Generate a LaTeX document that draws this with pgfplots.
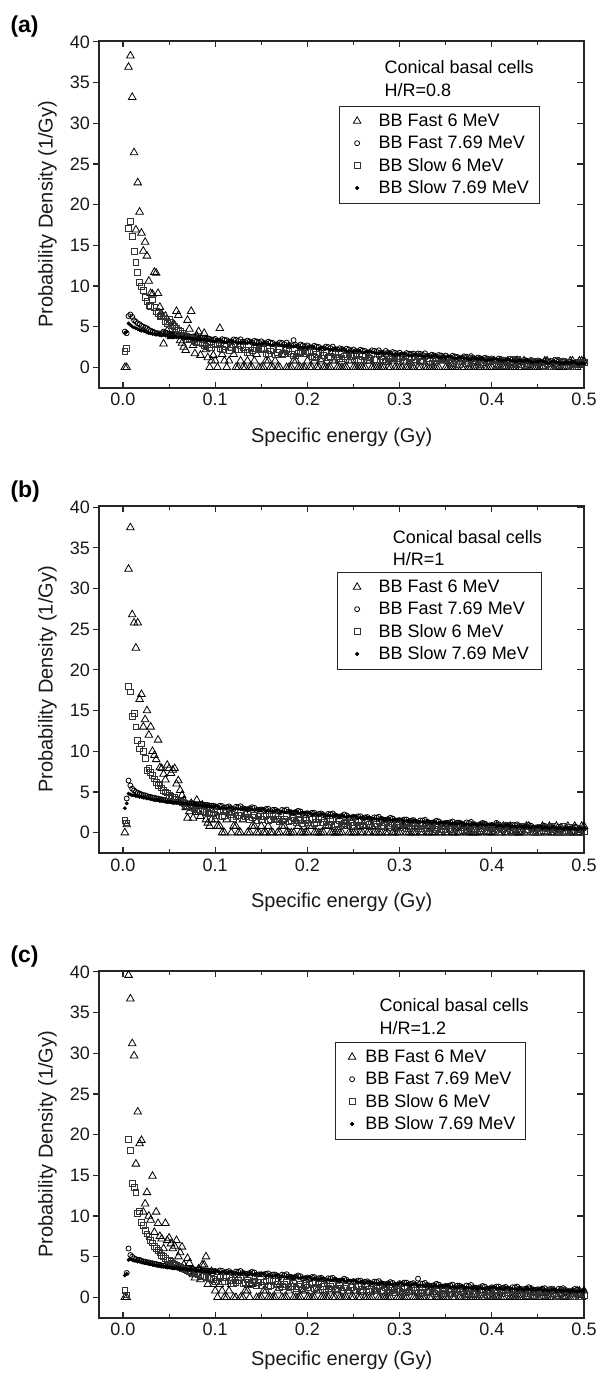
\documentclass[border=0pt]{standalone}
\usepackage{pgfplots}
\pgfplotsset{compat=1.18}
\usepackage{pgfplotstable}
\usepackage{fontspec}
\setmainfont{Liberation Sans}

\pgfplotstableread{
x t c s d
0.002 0.0 4.4 2.0 4.2
0.004 0.0 4.2 2.3 4.4
0.006 36.9 6.3 17.1 5.4
0.008 38.3 6.5 17.9 5.2
0.010 33.2 6.2 16.1 5.0
0.012 26.4 5.8 14.3 4.9
0.014 16.9 5.6 12.9 4.8
0.016 22.7 5.4 11.7 4.7
0.018 19.1 5.3 10.4 4.6
0.020 16.5 5.1 10.0 4.5
0.022 14.3 5.0 9.5 4.5
0.024 15.4 4.9 8.6 4.4
0.026 13.7 4.8 8.1 4.3
0.028 10.6 4.6 7.6 4.2
0.030 9.1 4.5 7.5 4.2
0.032 9.0 4.4 8.3 4.1
0.034 11.7 4.3 7.4 4.1
0.036 11.6 4.2 6.9 4.0
0.038 9.1 4.2 6.6 4.1
0.040 7.4 4.1 6.3 4.0
0.042 6.5 4.2 6.4 3.9
0.044 2.9 4.4 6.4 4.0
0.046 6.3 4.3 5.6 3.9
0.048 4.5 4.2 5.4 3.9
0.050 5.5 4.1 5.9 3.8
0.052 3.8 4.1 5.5 3.8
0.054 4.0 4.0 5.2 3.8
0.056 5.2 4.0 5.0 3.8
0.058 6.9 4.0 4.8 3.7
0.060 6.4 3.9 4.6 3.7
0.062 3.3 3.9 4.4 3.7
0.064 3.0 3.9 4.2 3.7
0.066 2.5 3.8 4.0 3.6
0.068 2.1 3.9 3.8 3.6
0.070 5.8 3.9 3.4 3.6
0.072 4.7 3.8 3.5 3.6
0.074 6.9 3.7 3.6 3.5
0.076 2.7 3.8 3.4 3.5
0.078 1.7 3.8 3.2 3.5
0.080 3.9 3.7 3.1 3.5
0.082 4.4 3.6 3.0 3.4
0.084 1.5 3.7 3.0 3.4
0.086 3.0 3.6 2.9 3.4
0.088 4.2 3.6 2.7 3.4
0.090 2.2 3.5 2.6 3.3
0.092 1.2 3.5 2.8 3.3
0.094 0.0 3.5 2.4 3.3
0.096 0.8 3.4 2.5 3.3
0.098 1.5 3.4 2.8 3.2
0.100 0.8 3.50 2.90 3.20
0.105 4.8 3.27 2.34 3.29
0.110 0.8 3.39 2.58 3.08
0.115 0.8 3.16 2.07 3.19
0.120 1.6 3.43 2.76 3.11
0.125 0 3.25 2.20 2.99
0.130 0 3.17 2.44 3.14
0.135 0.8 3.29 1.88 2.97
0.140 0 3.06 2.12 3.03
0.145 1.6 3.18 2.31 2.83
0.150 0 3.20 2.30 2.85
0.155 0.8 2.95 1.76 2.94
0.160 0 3.05 2.02 2.71
0.165 0.8 2.80 1.53 2.82
0.170 0 3.05 2.24 2.72
0.175 1.6 2.85 1.70 2.60
0.180 0 2.75 1.96 2.73
0.185 0.8 3.35 1.42 2.56
0.190 0 2.60 1.68 2.60
0.195 0 2.70 1.89 2.40
0.200 0.8 2.70 1.90 2.40
0.205 0 2.45 1.37 2.49
0.210 0 2.55 1.63 2.26
0.215 0.8 2.30 1.15 2.37
0.220 0 2.55 1.86 2.27
0.225 0 2.35 1.33 2.15
0.230 0.8 2.25 1.59 2.28
0.235 0 2.35 1.06 2.11
0.240 0 2.10 1.32 2.15
0.245 0.8 2.20 1.54 1.95
0.250 0 2.20 1.55 1.95
0.255 0 1.96 1.02 2.04
0.260 0 2.07 1.30 1.82
0.265 0.8 1.83 0.82 1.93
0.270 0 2.09 1.55 1.84
0.275 0 1.90 1.02 1.72
0.280 0 1.81 1.30 1.86
0.285 0.8 2.02 0.77 1.69
0.290 0 1.68 1.05 1.74
0.295 0 1.79 1.27 1.54
0.300 0 1.80 1.30 1.55
0.305 0.8 1.56 0.78 1.65
0.310 0 1.68 1.06 1.43
0.315 0 1.70 0.59 1.55
0.320 0 1.71 1.32 1.46
0.325 0.8 1.53 0.80 1.35
0.330 0 1.44 1.08 1.49
0.335 0 1.56 0.56 1.33
0.340 0 1.32 0.84 1.38
0.345 0.8 1.44 1.07 1.19
0.350 0 1.45 1.10 1.20
0.355 0 1.22 0.58 1.30
0.360 0 1.33 0.86 1.09
0.365 0.8 1.10 0.39 1.21
0.370 0 1.36 1.12 1.13
0.375 0 1.18 0.60 1.02
0.380 0 1.09 0.88 1.17
0.385 0 1.21 0.36 1.01
0.390 0.8 0.97 0.64 1.07
0.395 0 1.09 0.87 0.88
0.400 0 1.10 0.90 0.90
0.405 0 0.88 0.39 1.01
0.410 0.8 1.00 0.67 0.80
0.415 0 0.78 0.21 0.93
0.420 0 1.05 0.94 0.85
0.425 0 0.88 0.43 0.75
0.430 0 0.80 0.71 0.90
0.435 0.8 0.93 0.20 0.75
0.440 0 0.70 0.48 0.81
0.445 0 0.83 0.72 0.63
0.450 0 0.85 0.75 0.65
0.455 0 0.63 0.24 0.76
0.460 0.8 0.75 0.53 0.56
0.465 0 0.53 0.07 0.69
0.470 0 0.80 0.81 0.62
0.475 0 0.63 0.30 0.52
0.480 0 0.55 0.59 0.68
0.485 0.8 0.68 0.08 0.53
0.490 0 0.45 0.37 0.60
0.495 0.8 0.58 0.61 0.42
0.500 0.8 0.60 0.65 0.45
0.1025 0 3.30 2.80 3.35
0.1075 1.6 3.47 2.24 3.21
0.1125 0 3.34 2.78 3.08
0.1175 2.4 3.21 2.42 3.24
0.1225 0 3.38 2.16 3.11
0.1275 0.8 3.45 2.70 2.97
0.1325 0 3.12 2.14 3.04
0.1375 0 3.19 1.88 3.10
0.1425 0.8 3.26 2.32 2.87
0.1475 0 3.03 2.16 2.93
0.1525 0 3.00 2.20 3.00
0.1575 0.8 3.15 1.66 2.86
0.1625 0 3.00 2.22 2.71
0.1675 0 2.85 1.88 2.87
0.1725 1.6 3.00 1.64 2.72
0.1775 0 3.05 2.20 2.58
0.1825 0 2.70 1.66 2.63
0.1875 0.8 2.75 1.42 2.69
0.1925 0 2.80 1.88 2.44
0.1975 0 2.55 1.74 2.50
0.2025 0 2.50 1.80 2.55
0.2075 0.8 2.65 1.27 2.41
0.2125 0 2.50 1.83 2.26
0.2175 0 2.35 1.50 2.42
0.2225 0 2.50 1.26 2.27
0.2275 0.8 2.55 1.83 2.13
0.2325 0 2.20 1.29 2.18
0.2375 0 2.25 1.06 2.24
0.2425 0 2.30 1.52 1.99
0.2475 0.8 2.05 1.39 2.05
0.2525 0 2.00 1.45 2.10
0.2575 0 2.16 0.92 1.96
0.2625 0 2.02 1.50 1.82
0.2675 0.8 1.88 1.17 1.98
0.2725 0 2.04 0.95 1.84
0.2775 0 2.10 1.52 1.70
0.2825 0 1.76 1.00 1.76
0.2875 0 1.82 0.77 1.82
0.2925 0.8 1.88 1.25 1.58
0.2975 0 1.64 1.12 1.64
0.3025 0 1.60 1.20 1.70
0.3075 0 1.76 0.68 1.57
0.3125 0 1.63 1.26 1.43
0.3175 0.8 1.50 0.94 1.60
0.3225 0 1.66 0.72 1.46
0.3275 0 1.73 1.30 1.33
0.3325 0 1.39 0.78 1.39
0.3375 0 1.46 0.56 1.46
0.3425 0 1.52 1.04 1.22
0.3475 0.8 1.29 0.92 1.29
0.3525 0 1.25 1.00 1.35
0.3575 0 1.42 0.48 1.22
0.3625 0 1.28 1.06 1.09
0.3675 0 1.15 0.74 1.26
0.3725 0.8 1.31 0.52 1.13
0.3775 0 1.38 1.10 1.00
0.3825 0 1.04 0.58 1.07
0.3875 0 1.11 0.36 1.14
0.3925 0 1.17 0.84 0.91
0.3975 0 0.94 0.72 0.98
0.4025 0.8 0.90 0.80 1.05
0.4075 0 1.08 0.29 0.93
0.4125 0 0.95 0.87 0.80
0.4175 0 0.83 0.56 0.98
0.4225 0 1.00 0.34 0.85
0.4275 0.8 1.08 0.93 0.73
0.4325 0 0.75 0.41 0.80
0.4375 0 0.83 0.20 0.88
0.4425 0 0.90 0.68 0.65
0.4475 0 0.68 0.57 0.73
0.4525 0 0.65 0.65 0.80
0.4575 0.8 0.83 0.14 0.68
0.4625 0 0.70 0.73 0.56
0.4675 0 0.58 0.42 0.74
0.4725 0 0.75 0.21 0.62
0.4775 0 0.83 0.80 0.50
0.4825 0 0.50 0.29 0.58
0.4875 0.8 0.58 0.08 0.66
0.4925 0 0.65 0.57 0.44
0.4975 0.8 0.43 0.46 0.52
}\tabA

\pgfplotstableread{
x t c s d
0.002 0.0 nan 1.5 3.0
0.004 1.0 4.2 1.2 3.6
0.006 32.4 6.4 18.0 4.8
0.008 37.5 5.8 17.3 4.7
0.010 26.8 5.4 14.3 4.6
0.012 25.8 5.2 14.7 4.6
0.014 22.7 5.0 13.0 4.5
0.016 25.8 4.9 11.3 4.5
0.018 16.4 4.8 10.3 4.4
0.020 17.0 4.7 10.9 4.4
0.022 13.0 4.6 10.0 4.3
0.024 13.9 4.6 9.1 4.3
0.026 15.0 4.5 7.7 4.2
0.028 12.0 4.4 7.9 4.2
0.030 13.0 4.4 7.4 4.1
0.032 10.0 4.3 7.0 4.1
0.034 9.5 4.3 6.6 4.0
0.036 9.0 4.2 6.2 4.0
0.038 11.4 4.2 5.8 4.0
0.040 8.0 4.1 6.0 3.9
0.042 7.9 4.1 5.5 3.9
0.044 7.2 4.0 5.2 3.9
0.046 6.5 4.0 5.0 3.8
0.048 8.3 3.9 4.9 3.8
0.050 7.9 3.9 4.6 3.8
0.052 7.3 3.9 4.5 3.8
0.054 7.7 3.8 4.4 3.7
0.056 7.9 3.8 4.3 3.7
0.058 6.0 3.8 4.1 3.7
0.060 6.4 3.8 4.0 3.7
0.062 5.2 3.7 3.8 3.6
0.064 4.6 3.7 3.7 3.6
0.066 4.0 3.7 3.6 3.6
0.068 3.1 3.7 3.4 3.6
0.070 1.8 3.6 3.3 3.5
0.072 2.6 3.6 3.2 3.5
0.074 3.6 3.6 3.1 3.5
0.076 1.8 3.6 3.1 3.5
0.078 3.2 3.5 3.0 3.4
0.080 4.0 3.5 2.9 3.4
0.082 2.5 3.5 2.8 3.4
0.084 2.0 3.5 2.7 3.4
0.086 3.4 3.4 2.6 3.3
0.088 2.8 3.4 2.6 3.3
0.090 1.6 3.4 2.5 3.3
0.092 1.2 3.4 2.5 3.3
0.094 0.8 3.3 2.4 3.2
0.096 1.6 3.3 2.3 3.2
0.098 2.4 3.3 2.3 3.2
0.100 1.6 3.25 2.10 3.25
0.105 0.8 3.31 2.55 3.01
0.110 0 3.07 2.10 3.07
0.115 2.4 3.23 2.55 3.13
0.120 0.8 2.89 1.80 2.89
0.125 0 3.15 2.15 2.95
0.130 1.6 3.01 1.80 3.01
0.135 0 2.87 2.25 2.77
0.140 0.8 3.13 1.90 2.83
0.145 0 2.79 1.55 2.89
0.150 0.8 2.85 1.60 2.85
0.155 0 2.90 2.06 2.60
0.160 0 2.66 1.62 2.66
0.165 1.6 2.81 2.08 2.71
0.170 0 2.47 1.34 2.47
0.175 0.8 2.72 1.70 2.52
0.180 0 2.58 1.36 2.58
0.185 0 2.43 1.82 2.33
0.190 0.8 2.69 1.48 2.39
0.195 0 2.34 1.14 2.44
0.200 0 2.40 1.20 2.40
0.205 0.8 2.45 1.67 2.16
0.210 0 2.21 1.24 2.22
0.215 0 2.36 1.71 2.28
0.220 0.8 2.02 0.98 2.04
0.225 0 2.27 1.35 2.10
0.230 0 2.13 1.02 2.16
0.235 0 1.98 1.49 1.92
0.240 0.8 2.24 1.16 1.98
0.245 0 1.89 0.83 2.04
0.250 0 1.95 0.90 2.00
0.255 0.8 2.01 1.38 1.76
0.260 0 1.77 0.95 1.82
0.265 0 1.93 1.43 1.88
0.270 0.8 1.59 0.70 1.64
0.275 0 1.85 1.08 1.70
0.280 0 1.71 0.75 1.76
0.285 0 1.57 1.23 1.52
0.290 0.8 1.83 0.90 1.58
0.295 0 1.49 0.58 1.64
0.300 0 1.55 0.65 1.60
0.305 0.8 1.62 1.13 1.37
0.310 0 1.38 0.71 1.43
0.315 0 1.55 1.19 1.50
0.320 0.8 1.21 0.47 1.26
0.325 0 1.48 0.85 1.33
0.330 0 1.34 0.53 1.39
0.335 0 1.21 1.01 1.16
0.340 0.8 1.47 0.69 1.22
0.345 0 1.14 0.37 1.29
0.350 0 1.20 0.45 1.25
0.355 0.8 1.28 0.94 1.03
0.360 0 1.05 0.52 1.10
0.365 0 1.23 1.01 1.18
0.370 0.8 0.90 0.29 0.95
0.375 0 1.18 0.68 1.03
0.380 0 1.05 0.36 1.10
0.385 0 0.93 0.85 0.88
0.390 0.8 1.20 0.53 0.95
0.395 0 0.88 0.22 1.03
0.400 0 0.95 0.30 1.00
0.405 0.8 1.20 0.79 0.78
0.410 0 0.80 0.38 0.85
0.415 0 0.98 0.87 0.93
0.420 0.8 0.65 0.16 0.70
0.425 0 0.93 0.55 0.78
0.430 0 0.80 0.24 0.85
0.435 0 0.68 0.73 0.63
0.440 0.8 0.95 0.42 0.70
0.445 0 0.63 0.11 0.78
0.450 0 0.70 0.20 0.75
0.455 0.8 0.78 0.69 0.53
0.460 0 0.56 0.28 0.61
0.465 0 0.74 0.77 0.69
0.470 0.8 0.42 0.06 0.47
0.475 0 0.70 0.45 0.55
0.480 0 0.58 0.14 0.63
0.485 0 0.46 0.63 0.41
0.490 0.8 0.74 0.32 0.49
0.495 0 0.42 0.01 0.57
0.500 0.8 0.50 0.10 0.55
0.1025 0.8 3.10 2.60 3.25
0.1075 0 3.27 2.04 3.11
0.1125 1.6 3.14 2.58 2.98
0.1175 0 3.01 2.22 3.14
0.1225 0.8 3.18 1.96 3.01
0.1275 0 3.25 2.50 2.87
0.1325 2.4 2.92 1.94 2.94
0.1375 0 2.99 1.68 3.00
0.1425 0.8 3.06 2.12 2.77
0.1475 0 2.83 1.96 2.83
0.1525 0 2.80 2.00 2.90
0.1575 0.8 2.95 1.46 2.76
0.1625 0 2.80 2.02 2.61
0.1675 0 2.65 1.68 2.77
0.1725 0.8 2.80 1.44 2.62
0.1775 0 2.85 2.00 2.48
0.1825 0 2.50 1.46 2.53
0.1875 1.6 2.55 1.22 2.59
0.1925 0 2.60 1.68 2.34
0.1975 0 2.35 1.54 2.40
0.2025 0.8 2.30 1.60 2.45
0.2075 0 2.45 1.07 2.31
0.2125 0 2.30 1.63 2.16
0.2175 0 2.15 1.30 2.32
0.2225 0.8 2.30 1.06 2.17
0.2275 0 2.35 1.63 2.03
0.2325 0 2.00 1.09 2.08
0.2375 0 2.05 0.86 2.14
0.2425 0.8 2.10 1.32 1.89
0.2475 0 1.85 1.19 1.95
0.2525 0 1.85 1.30 2.00
0.2575 0 2.01 0.77 1.86
0.2625 0.8 1.87 1.35 1.72
0.2675 0 1.73 1.02 1.88
0.2725 0 1.89 0.80 1.74
0.2775 0 1.95 1.37 1.60
0.2825 0.8 1.61 0.85 1.66
0.2875 0 1.67 0.62 1.72
0.2925 0 1.73 1.10 1.48
0.2975 0 1.49 0.97 1.54
0.3025 0.8 1.45 1.05 1.60
0.3075 0 1.61 0.53 1.47
0.3125 0 1.48 1.11 1.33
0.3175 0 1.35 0.79 1.50
0.3225 0 1.51 0.57 1.36
0.3275 0.8 1.58 1.15 1.23
0.3325 0 1.24 0.63 1.29
0.3375 0 1.31 0.41 1.36
0.3425 0 1.37 0.89 1.12
0.3475 0.8 1.14 0.77 1.19
0.3525 0 1.20 0.90 1.30
0.3575 0 1.37 0.38 1.17
0.3625 0 1.23 0.96 1.04
0.3675 0.8 1.10 0.64 1.21
0.3725 0 1.26 0.42 1.08
0.3775 0 1.33 1.00 0.95
0.3825 0 0.99 0.48 1.02
0.3875 0 1.06 0.26 1.09
0.3925 0.8 1.12 0.74 0.86
0.3975 0 0.89 0.62 0.93
0.4025 0 0.85 0.70 1.00
0.4075 0 1.03 0.19 0.88
0.4125 0.8 0.90 0.77 0.75
0.4175 0 0.78 0.46 0.93
0.4225 0 0.95 0.24 0.80
0.4275 0 1.03 0.83 0.68
0.4325 0 0.70 0.31 0.75
0.4375 0.8 0.78 0.10 0.83
0.4425 0 0.85 0.58 0.60
0.4475 0 0.63 0.47 0.68
0.4525 0 0.65 0.60 0.75
0.4575 0 0.83 0.09 0.63
0.4625 0.8 0.70 0.68 0.51
0.4675 0 0.58 0.37 0.69
0.4725 0 0.75 0.16 0.57
0.4775 0 0.83 0.75 0.45
0.4825 0.8 0.50 0.24 0.53
0.4875 0 0.58 0.03 0.61
0.4925 0 0.65 0.52 0.39
0.4975 0.8 0.43 0.41 0.47
}\tabB

\pgfplotstableread{
x t c s d
0.002 0.0 nan 0.9 2.7
0.004 0.0 3.0 0.3 2.9
0.006 39.6 6.0 19.4 4.6
0.008 36.7 5.2 18.1 4.7
0.010 31.2 5.0 14.0 4.6
0.012 29.7 4.8 13.5 4.5
0.014 16.4 4.7 12.9 4.5
0.016 22.8 4.6 10.3 4.4
0.018 18.9 4.6 10.6 4.4
0.020 19.3 4.5 9.2 4.3
0.022 10.5 4.4 8.8 4.3
0.024 11.5 4.4 8.2 4.2
0.026 12.9 4.3 7.8 4.2
0.028 10.0 4.3 7.5 4.1
0.030 9.5 4.2 7.0 4.1
0.032 14.9 4.2 6.7 4.0
0.034 8.0 4.1 6.3 4.0
0.036 10.5 4.1 6.0 3.9
0.038 9.1 4.0 5.8 3.9
0.040 7.5 4.0 5.5 3.9
0.042 7.2 3.9 5.2 3.8
0.044 6.0 3.9 5.0 3.8
0.046 9.1 3.9 4.8 3.8
0.048 7.0 3.8 4.6 3.7
0.050 7.3 3.8 4.5 3.7
0.052 6.6 3.8 4.4 3.7
0.054 6.0 3.7 4.2 3.6
0.056 6.3 3.7 4.1 3.6
0.058 7.0 3.7 3.9 3.6
0.060 5.0 3.7 3.8 3.6
0.062 5.5 3.6 3.7 3.5
0.064 6.2 3.6 3.6 3.5
0.066 4.0 3.6 3.5 3.5
0.068 3.5 3.6 3.4 3.5
0.070 4.8 3.5 3.3 3.4
0.072 4.2 3.5 3.2 3.4
0.074 3.2 3.5 3.1 3.4
0.076 2.8 3.5 3.0 3.4
0.078 2.4 3.4 2.9 3.3
0.080 3.0 3.4 2.9 3.3
0.082 3.5 3.4 2.8 3.3
0.084 2.2 3.4 2.7 3.3
0.086 4.0 3.3 2.6 3.2
0.088 4.0 3.3 2.6 3.2
0.090 5.0 3.3 2.5 3.2
0.092 1.6 3.3 2.4 3.2
0.094 2.4 3.2 2.3 3.1
0.096 3.2 3.2 2.3 3.1
0.098 1.6 3.2 2.2 3.1
0.100 0.8 3.25 2.00 3.25
0.105 1.6 3.31 2.45 3.01
0.110 0 3.07 2.00 3.07
0.115 0.8 3.23 2.45 3.13
0.120 0 2.89 1.70 2.89
0.125 2.4 3.15 2.05 2.95
0.130 0 3.01 1.70 3.01
0.135 0.8 2.87 2.15 2.77
0.140 1.6 3.13 1.80 2.83
0.145 0 2.79 1.45 2.89
0.150 0 2.85 1.50 2.85
0.155 0.8 2.90 1.96 2.60
0.160 0 2.66 1.52 2.66
0.165 0 2.81 1.98 2.71
0.170 1.6 2.47 1.24 2.47
0.175 0 2.72 1.60 2.52
0.180 0.8 2.58 1.26 2.58
0.185 0 2.43 1.72 2.33
0.190 0 2.69 1.38 2.39
0.195 0.8 2.34 1.04 2.44
0.200 0 2.45 1.20 2.45
0.205 0 2.50 1.67 2.21
0.210 0.8 2.26 1.24 2.27
0.215 0 2.41 1.71 2.33
0.220 0 2.07 0.98 2.09
0.225 0.8 2.32 1.35 2.15
0.230 0 2.18 1.02 2.21
0.235 0 2.03 1.49 1.97
0.240 0 2.29 1.16 2.03
0.245 0.8 1.94 0.83 2.09
0.250 0 2.00 0.90 2.05
0.255 0 2.06 1.38 1.81
0.260 0.8 1.82 0.95 1.87
0.265 0 1.98 1.43 1.93
0.270 0 1.64 0.70 1.69
0.275 0.8 1.90 1.08 1.75
0.280 0 1.76 0.75 1.81
0.285 0 1.62 1.23 1.57
0.290 0 1.88 0.90 1.63
0.295 0.8 1.54 0.58 1.69
0.300 0 1.75 0.70 1.75
0.305 0 1.82 1.18 1.52
0.310 0.8 1.58 0.76 1.58
0.315 0 1.75 1.24 1.65
0.320 0 2.30 0.52 1.41
0.325 0 1.68 0.90 1.48
0.330 0.8 1.54 0.58 1.54
0.335 0 1.41 1.06 1.31
0.340 0 1.67 0.74 1.37
0.345 0 1.34 0.42 1.44
0.350 0 1.40 0.50 1.40
0.355 0.8 1.48 0.99 1.18
0.360 0 1.25 0.57 1.25
0.365 0 1.43 1.06 1.33
0.370 0 1.10 0.34 1.10
0.375 0.8 1.38 0.73 1.18
0.380 0 1.25 0.41 1.25
0.385 0 1.13 0.90 1.03
0.390 0 1.40 0.58 1.10
0.395 0.8 1.08 0.27 1.18
0.400 0 1.25 0.40 1.25
0.405 0 1.33 0.89 1.03
0.410 0 1.10 0.48 1.10
0.415 0.8 1.28 0.97 1.18
0.420 0 0.95 0.26 0.95
0.425 0 1.23 0.65 1.03
0.430 0 1.10 0.34 1.10
0.435 0.8 0.98 0.83 0.88
0.440 0 1.25 0.52 0.95
0.445 0 0.93 0.21 1.03
0.450 0 1.00 0.30 1.00
0.455 0.8 1.08 0.79 0.78
0.460 0 0.86 0.38 0.86
0.465 0 1.04 0.87 0.94
0.470 0 0.72 0.16 0.72
0.475 0.8 1.00 0.55 0.80
0.480 0 0.88 0.24 0.88
0.485 0 0.76 0.73 0.66
0.490 0 1.04 0.42 0.74
0.495 0.8 0.72 0.11 0.82
0.500 0.8 0.80 0.20 0.80
0.1025 0 3.10 2.50 3.25
0.1075 0.8 3.27 1.94 3.11
0.1125 0 3.14 2.48 2.98
0.1175 1.6 3.01 2.12 3.14
0.1225 0 3.18 1.86 3.01
0.1275 0 3.25 2.40 2.87
0.1325 0.8 2.92 1.84 2.94
0.1375 0 2.99 1.58 3.00
0.1425 2.4 3.06 2.02 2.77
0.1475 0 2.83 1.86 2.83
0.1525 0.8 2.80 1.90 2.90
0.1575 0 2.95 1.36 2.76
0.1625 0 2.80 1.92 2.61
0.1675 0.8 2.65 1.58 2.77
0.1725 0 2.80 1.34 2.62
0.1775 0 2.85 1.90 2.48
0.1825 1.6 2.50 1.36 2.53
0.1875 0 2.55 1.12 2.59
0.1925 0 2.60 1.58 2.34
0.1975 0.8 2.35 1.44 2.40
0.2025 0 2.35 1.60 2.50
0.2075 0 2.50 1.07 2.36
0.2125 0.8 2.35 1.63 2.21
0.2175 0 2.20 1.30 2.37
0.2225 0 2.35 1.06 2.22
0.2275 0 2.40 1.63 2.08
0.2325 0.8 2.05 1.09 2.13
0.2375 0 2.10 0.86 2.19
0.2425 0 2.15 1.32 1.94
0.2475 0 1.90 1.19 2.00
0.2525 0.8 1.90 1.30 2.05
0.2575 0 2.06 0.77 1.91
0.2625 0 1.92 1.35 1.77
0.2675 0 1.78 1.02 1.93
0.2725 0.8 1.94 0.80 1.79
0.2775 0 2.00 1.37 1.65
0.2825 0 1.66 0.85 1.71
0.2875 0 1.72 0.62 1.77
0.2925 0.8 1.78 1.10 1.53
0.2975 0 1.54 0.97 1.59
0.3025 0 1.65 1.10 1.75
0.3075 0 1.81 0.58 1.62
0.3125 0.8 1.68 1.16 1.48
0.3175 0 1.55 0.84 1.65
0.3225 0 1.71 0.62 1.51
0.3275 0 1.78 1.20 1.38
0.3325 0 1.44 0.68 1.44
0.3375 0.8 1.51 0.46 1.51
0.3425 0 1.57 0.94 1.27
0.3475 0 1.34 0.82 1.34
0.3525 0 1.40 0.95 1.45
0.3575 0 1.57 0.43 1.32
0.3625 0.8 1.43 1.01 1.19
0.3675 0 1.30 0.69 1.36
0.3725 0 1.46 0.47 1.23
0.3775 0 1.53 1.05 1.10
0.3825 0 1.19 0.53 1.17
0.3875 0.8 1.26 0.31 1.24
0.3925 0 1.32 0.79 1.01
0.3975 0 1.09 0.67 1.08
0.4025 0 1.15 0.80 1.25
0.4075 0 1.33 0.29 1.13
0.4125 0 1.20 0.87 1.00
0.4175 0.8 1.08 0.56 1.18
0.4225 0 1.25 0.34 1.05
0.4275 0 1.33 0.93 0.93
0.4325 0 1.00 0.41 1.00
0.4375 0 1.08 0.20 1.08
0.4425 0.8 1.15 0.68 0.85
0.4475 0 0.93 0.57 0.93
0.4525 0 0.95 0.70 1.05
0.4575 0 1.13 0.19 0.93
0.4625 0 1.00 0.78 0.81
0.4675 0.8 0.88 0.47 0.99
0.4725 0 1.05 0.26 0.87
0.4775 0 1.13 0.85 0.75
0.4825 0 0.80 0.34 0.83
0.4875 0 0.88 0.13 0.91
0.4925 0.8 0.95 0.62 0.69
0.4975 0 0.73 0.51 0.77
}\tabC

\pgfplotsset{
  panelbase/.style={
    scale only axis, width=484.7bp, height=347bp,
    xmin=-0.0257, xmax=0.5, ymin=-2.5, ymax=40.15,
  },
  lgimg/.style={legend image code/.code={%
      \path[draw=none,fill=none] (0bp,-6bp) rectangle (18bp,6bp);
      \draw[##1,only marks] plot coordinates {(9bp,0bp)};}},
  mainpanel/.style={
    panelbase,
    axis line style={line width=1.6bp, black!85},
    xtick={0,0.1,0.2,0.3,0.4,0.5},
    minor xtick={0.05,0.15,0.25,0.35,0.45},
    xtick align=inside,
    ytick={0,5,10,15,20,25,30,35,40},
    ytick pos=left, ytick align=outside,
    major tick length=6bp, minor tick length=4bp,
    every tick/.style={line width=1.1bp, black!85},
    scaled x ticks=false,
    xticklabel style={/pgf/number format/.cd, fixed, fixed zerofill, precision=1, assume math mode=true},
    yticklabel style={/pgf/number format/assume math mode=true},
    tick label style={font=\fontsize{18bp}{21bp}\selectfont, text=black!90},
    xticklabel shift=2bp,
    xlabel={Specific energy (Gy)},
    ylabel={Probability Density (1/Gy)},
    label style={font=\fontsize{20bp}{24bp}\selectfont, text=black!90},
    xlabel style={at={(axis description cs:0.5,-0.1421)}, anchor=center},
    ylabel style={at={(axis description cs:-0.1069,0.5)}, anchor=center},
    legend cell align=left,
    legend style={draw=black!85, line width=0.8bp, fill=none, anchor=north west,
      inner ysep=6bp, row sep=4bp,
      font=\fontsize{18bp}{21bp}\selectfont,
      nodes={inner sep=2bp, text depth=0.15em}},
  },
  rightticks/.style={
    panelbase,
    axis x line=none, axis y line*=right,
    y axis line style={draw=none},
    ytick={0,5,10,15,20,25,30,35,40}, yticklabels={},
    ytick align=inside, major tick length=7.5bp,
    every tick/.style={line width=1.1bp, black!85},
  },
  pf6/.style={only marks, mark=triangle, mark size=4.4bp, line width=0.8bp, black, lgimg},
  pf7/.style={only marks, mark=o, mark size=2.5bp, line width=0.8bp, black, lgimg},
  ps6/.style={only marks, mark=square, mark size=2.9bp, line width=0.8bp, black!80, lgimg},
  ps7/.style={only marks, mark=*, mark size=1.7bp, black, lgimg},
}

\newcommand{\annfont}{\fontsize{18bp}{21bp}\selectfont}
\newcommand{\pfont}{\bfseries\fontsize{23bp}{27bp}\selectfont}

\begin{document}
\begin{tikzpicture}
\useasboundingbox (0,0) rectangle (602bp,-1375bp);

% ---------------- (a)
\begin{axis}[mainpanel, at={(99.3bp,-387.7bp)}, anchor=south west,
  legend style={at={(rel axis cs:0.4952,0.8127)}, inner xsep=8.4bp, column sep=10.6bp}]
\addplot[pf6] table[x=x,y=t]{\tabA}; \addlegendentry{BB Fast 6 MeV}
\addplot[pf7] table[x=x,y=c]{\tabA}; \addlegendentry{BB Fast 7.69 MeV}
\addplot[ps6] table[x=x,y=s]{\tabA}; \addlegendentry{BB Slow 6 MeV}
\addplot[ps7] table[x=x,y=d]{\tabA}; \addlegendentry{BB Slow 7.69 MeV}
\node[anchor=west, font=\annfont] at (rel axis cs:0.5812,0.9233) {Conical basal cells};
\node[anchor=west, font=\annfont] at (rel axis cs:0.5812,0.8580) {H/R=0.8};
\end{axis}
\begin{axis}[rightticks, at={(99.3bp,-387.7bp)}, anchor=south west]
\end{axis}
\node[anchor=west, font=\pfont] at (7bp,-26.7bp) {(a)};

% ---------------- (b)
\begin{axis}[mainpanel, at={(99.3bp,-853bp)}, anchor=south west,
  legend style={at={(rel axis cs:0.4898,0.8107)}, inner xsep=11bp, column sep=10.6bp}]
\addplot[pf6] table[x=x,y=t]{\tabB}; \addlegendentry{BB Fast 6 MeV}
\addplot[pf7] table[x=x,y=c]{\tabB}; \addlegendentry{BB Fast 7.69 MeV}
\addplot[ps6] table[x=x,y=s]{\tabB}; \addlegendentry{BB Slow 6 MeV}
\addplot[ps7] table[x=x,y=d]{\tabB}; \addlegendentry{BB Slow 7.69 MeV}
\node[anchor=west, font=\annfont] at (rel axis cs:0.5983,0.9115) {Conical basal cells};
\node[anchor=west, font=\annfont] at (rel axis cs:0.5983,0.8464) {H/R=1};
\end{axis}
\begin{axis}[rightticks, at={(99.3bp,-853bp)}, anchor=south west]
\end{axis}
\node[anchor=west, font=\pfont] at (7bp,-492bp) {(b)};

% ---------------- (c)
\begin{axis}[mainpanel, at={(99.3bp,-1317.7bp)}, anchor=south west,
  xlabel style={at={(axis description cs:0.5,-0.1239)}, anchor=center},
  legend style={at={(rel axis cs:0.4863,0.7954)}, inner xsep=7.7bp, column sep=2.3bp}]
\addplot[pf6] table[x=x,y=t]{\tabC}; \addlegendentry{BB Fast 6 MeV}
\addplot[pf7] table[x=x,y=c]{\tabC}; \addlegendentry{BB Fast 7.69 MeV}
\addplot[ps6] table[x=x,y=s]{\tabC}; \addlegendentry{BB Slow 6 MeV}
\addplot[ps7] table[x=x,y=d]{\tabC}; \addlegendentry{BB Slow 7.69 MeV}
\node[anchor=west, font=\annfont] at (rel axis cs:0.5709,0.9012) {Conical basal cells};
\node[anchor=west, font=\annfont] at (rel axis cs:0.5709,0.8340) {H/R=1.2};
\end{axis}
\begin{axis}[rightticks, at={(99.3bp,-1317.7bp)}, anchor=south west]
\end{axis}
\node[anchor=west, font=\pfont] at (7bp,-956.7bp) {(c)};
\end{tikzpicture}
\end{document}
